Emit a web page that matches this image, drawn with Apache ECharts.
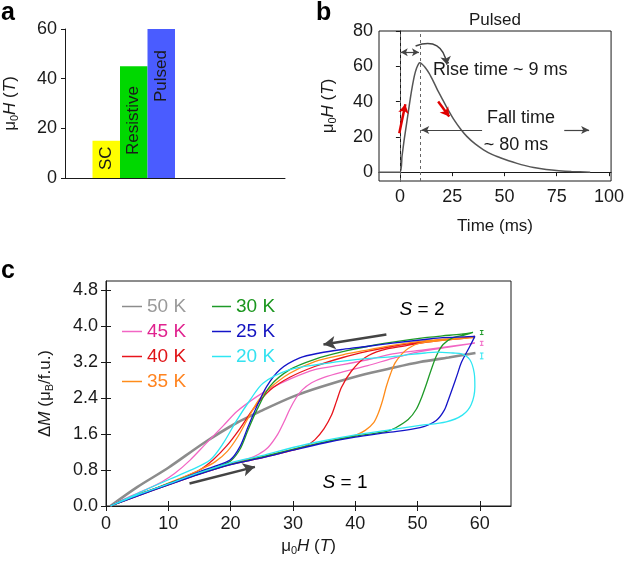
<!DOCTYPE html>
<html><head><meta charset="utf-8">
<script src="https://cdn.jsdelivr.net/npm/echarts@6/dist/echarts.min.js"></script>
<style>html,body{margin:0;padding:0;background:#fff}#c{width:627px;height:565px}</style>
</head><body><div id="c"></div>
<script>
// ---------- Panel a data ----------
const fieldNames = ['SC', 'Resistive', 'Pulsed'];
const fieldValues = [15, 45, 60];
const fieldTicks = [0, 20, 40, 60];

// ---------- Panel b data ----------
const pulseTime  = [-10, 0, 1, 2, 3, 4, 5, 6, 7, 8, 9, 9.5, 10.5, 12, 14, 16, 18, 20.5, 23, 26, 29, 32, 36, 40, 44, 48, 52, 56, 60, 64, 70, 76, 82, 91];
const pulseField = [0, 0, 9, 18, 26, 34, 42, 49, 55, 59, 61.5, 62, 61.3, 59.5, 56, 51.5, 46.5, 41, 35.5, 29.5, 24.5, 20.3, 16, 12.7, 10.1, 8.2, 6.5, 5, 3.7, 2.6, 1.5, 0.8, 0.35, 0];
const timeTicks = [0, 25, 50, 75, 100];
const pulseTicks = [0, 20, 40, 60, 80];

// ---------- Panel c data ----------
const tempNames = ['50 K', '45 K', '40 K', '35 K', '30 K', '25 K', '20 K'];
const loop50K = [[0.7,0],[5,0.42],[10,0.85],[15.7,1.40],[21,1.85],[25,2.12],[30,2.43],[34.3,2.64],[40.75,2.90],[46,3.07],[50.4,3.20],[55,3.30],[59.3,3.40]];
const loop45K = [[0.7,0],[5,0.24],[10,0.49],[15,0.74],[20,0.94],[23,1.06],[24.5,1.15],[26,1.3],[27.5,1.58],[28.5,1.85],[29.5,2.15],[30.5,2.4],[31.5,2.58],[33,2.74],[35,2.86],[38,2.98],[42,3.12],[46,3.28],[50,3.42],[55,3.53],[59.2,3.62],
  [57,3.58],[51,3.47],[46,3.38],[42,3.25],[38,3.14],[33.5,3.03],[29.5,2.82],[26.5,2.62],[24.2,2.43],[21,2.1],[18.8,1.78],[16,1.38],[13.5,1.02],[11,0.72],[9,0.54],[6,0.34],[3,0.16],[0.7,0]];
const loop40K = [[0.7,0],[5,0.22],[10,0.47],[15,0.71],[20,0.92],[25,1.07],[30,1.24],[32,1.33],[33.5,1.47],[35,1.72],[36.2,2.02],[37,2.33],[37.8,2.64],[39.4,3.0],[41.6,3.3],[44.2,3.46],[48,3.56],[51,3.63],[55,3.7],[59.2,3.77],
  [57,3.72],[53,3.68],[51.2,3.66],[46,3.55],[42.1,3.44],[38,3.3],[33.5,3.1],[29.5,2.86],[26.3,2.57],[23.6,2.15],[21.5,1.72],[19.4,1.34],[17.2,1.03],[15,0.8],[12,0.61],[8,0.39],[4,0.19],[0.7,0]];
const loop35K = [[0.7,0],[5,0.23],[10,0.48],[15,0.72],[20,0.93],[25,1.09],[30,1.26],[35,1.42],[38,1.5],[40,1.57],[41.6,1.68],[43,1.86],[43.7,2.06],[44.4,2.35],[45,2.66],[45.7,2.95],[46.4,3.18],[47.5,3.38],[48.5,3.5],[50.1,3.61],[54,3.68],[59.2,3.74],
  [56,3.72],[51.2,3.67],[46,3.57],[42.1,3.47],[38,3.36],[33.5,3.21],[29.5,2.95],[26.3,2.62],[24.5,2.35],[22.8,1.95],[21.2,1.55],[19.5,1.22],[17.5,0.98],[15,0.8],[12,0.62],[8,0.4],[4,0.2],[0.7,0]];
const loop30K = [[0.7,0],[5,0.23],[10,0.48],[15,0.72],[20,0.93],[25,1.09],[30,1.26],[35,1.42],[40,1.55],[45,1.66],[46.5,1.74],[48.5,1.92],[49.8,2.15],[50.7,2.43],[51.4,2.7],[52,2.95],[53,3.33],[54.1,3.59],[55.7,3.74],[57.5,3.8],[58.9,3.86],
  [57,3.82],[54,3.78],[51.2,3.74],[46,3.64],[42.1,3.55],[38,3.43],[33.5,3.26],[29.5,3.03],[26.3,2.66],[24.2,2.13],[22.8,1.69],[21.5,1.26],[20,1.0],[18,0.88],[15,0.75],[12,0.6],[8,0.39],[4,0.19],[0.7,0]];
const loop25K = [[0.7,0],[5,0.22],[10,0.47],[15,0.71],[20,0.92],[25,1.07],[30,1.24],[35,1.4],[40,1.53],[45,1.63],[50.4,1.74],[53,1.9],[54.3,2.13],[55,2.38],[55.7,2.65],[56.4,2.93],[57,3.18],[58.4,3.55],[59.2,3.77],
  [57.5,3.76],[54,3.74],[51.2,3.7],[46,3.62],[42.1,3.55],[38,3.48],[34.3,3.4],[31.1,3.29],[27.9,3.03],[25.8,2.66],[24.2,2.21],[22.8,1.76],[21.5,1.32],[19.9,1.02],[17.2,0.87],[15,0.76],[12,0.59],[8,0.39],[4,0.19],[0.7,0]];
const loop20K = [[0.7,0],[5,0.24],[10,0.49],[15,0.74],[20,0.96],[25,1.12],[30,1.3],[35,1.45],[40,1.58],[45,1.68],[50.4,1.79],[54.6,1.87],[57.2,2.02],[58.6,2.25],[59.2,2.65],[59.1,2.95],[58.4,3.25],[57.1,3.38],[55.7,3.4],
  [53,3.42],[51.2,3.4],[49,3.37],[46,3.32],[42.1,3.28],[38,3.22],[34.3,3.15],[29.5,3.03],[25.2,2.73],[23.1,2.35],[21,1.91],[18.8,1.39],[16.7,1.02],[13.5,0.79],[10.3,0.6],[7,0.4],[4,0.21],[0.7,0]];
const fieldTicksC = [0, 10, 20, 30, 40, 50, 60];
const momentTicks = ['0.0', '0.8', '1.6', '2.4', '3.2', '4.0', '4.8'];
const errorBarField = [60.3, 60.3, 60.3];
const errorBarLow  = [3.81, 3.57, 3.27];
const errorBarHigh = [3.90, 3.66, 3.40];

// ---------- styles ----------
const F = "'Liberation Sans', Arial, Helvetica, sans-serif";
const INK = '#1a1a1a';
const barColors = ['#ffff00', '#00d800', '#4a5cff'];
const lineColors = ['#8c8c8c', '#f266c4', '#e8141c', '#ff8c1a', '#1e9a28', '#1414c8', '#2ee6f2'];
const textColors = ['#9a9a9a', '#e0238f', '#e01418', '#ff8420', '#1a961e', '#1414c0', '#34e2f0'];
const loops = [loop50K, loop45K, loop40K, loop35K, loop30K, loop25K, loop20K];
const errColors = [lineColors[4], lineColors[1], lineColors[6]];

function richStyle(size) {
  return {
    n: {fontSize: size, fontFamily: F, color: INK},
    i: {fontSize: size, fontFamily: F, fontStyle: 'italic', color: INK},
    s: {fontSize: Math.round(size * 0.65), fontFamily: F, color: INK, padding: [8, 0, 0, 0]}
  };
}
const muH = '{n|μ}{s|0}{i|H}{n| (}{i|T}{n|)}';
const dM = '{n|Δ}{i|M}{n| (μ}{s|B}{n|/f.u.)}';
const axLine = {show: true, lineStyle: {color: INK, width: 1}};
const lab = (extra) => Object.assign({fontSize: 18, fontFamily: F, color: INK}, extra);

// Panel a categories (padding slots around the three bars)
const aCats = ['p0'].concat(fieldNames, ['p1', 'p2', 'p3', 'p4']);
const labelPos = [
  {position: 'insideBottom', align: 'left', distance: 8},
  {position: 'insideBottom', align: 'left', distance: 23},
  {position: 'insideTop', align: 'right', distance: 21}
];
const barData = aCats.map(c => {
  const k = fieldNames.indexOf(c);
  if (k < 0) return '-';
  return {
    value: fieldValues[k],
    itemStyle: {color: barColors[k]},
    label: Object.assign({show: true, formatter: '{b}', rotate: 90, verticalAlign: 'middle',
      fontSize: 17, fontFamily: F, color: INK}, labelPos[k])
  };
});

const chart = echarts.init(document.getElementById('c'), null, {renderer: 'canvas'});

const cSeries = loops.map((d, k) => ({
  name: tempNames[k], type: 'line', xAxisIndex: 2, yAxisIndex: 2,
  data: d, symbol: 'none', showSymbol: false, smooth: 0.3,
  lineStyle: {color: lineColors[k], width: k === 0 ? 2.6 : 1.3},
  itemStyle: {color: lineColors[k]}, z: 3 + k
}));
cSeries[0].markLine = {
  silent: true, animation: false, label: {show: false},
  lineStyle: {color: '#444', width: 2.5, type: 'solid'},
  data: [
    [{coord: [13.4, 0.50], symbol: 'none'}, {coord: [23.9, 0.87], symbol: 'arrow', symbolSize: [10, 12]}],
    [{coord: [45.0, 3.81], symbol: 'none'}, {coord: [34.9, 3.59], symbol: 'arrow', symbolSize: [10, 12]}]
  ]
};

const legendBase = {orient: 'vertical', top: 297, itemGap: 6, itemHeight: 1.5, padding: 0, selectedMode: false,
  icon: 'rect', textStyle: {fontSize: 19, fontFamily: F, lineHeight: 17}};

const option = {
  animation: false,
  backgroundColor: '#fff',
  grid: [
    {left: 65, top: 29, width: 220, height: 149},
    {left: 379, top: 31, width: 233, height: 150, show: true, borderColor: INK, borderWidth: 1},
    {left: 106, top: 281, width: 405, height: 225, show: true, borderColor: INK, borderWidth: 1}
  ],
  xAxis: [
    {type: 'category', gridIndex: 0, data: aCats, axisLine: axLine, axisTick: {show: false}, axisLabel: {show: false}},
    {type: 'value', gridIndex: 1, min: -10, max: 101, axisLine: axLine,
      axisTick: {show: true, customValues: timeTicks, length: 4, lineStyle: {color: INK}},
      axisLabel: lab({customValues: timeTicks, margin: 7}), splitLine: {show: false},
      name: 'Time (ms)', nameLocation: 'middle', nameGap: 37, nameTextStyle: {fontSize: 17, fontFamily: F, color: INK}},
    {type: 'value', gridIndex: 2, min: 0, max: 65, axisLine: axLine,
      axisTick: {show: true, inside: true, customValues: fieldTicksC, length: 5, lineStyle: {color: INK}},
      axisLabel: lab({customValues: fieldTicksC, margin: 9}), splitLine: {show: false},
      name: muH, nameLocation: 'middle', nameGap: 31, nameTextStyle: {rich: richStyle(17)}},
    {type: 'value', gridIndex: 2, position: 'top', min: 0, max: 65, axisLine: {show: false},
      axisTick: {show: true, inside: true, customValues: fieldTicksC, length: 5, lineStyle: {color: INK}},
      axisLabel: {show: false}, splitLine: {show: false}}
  ],
  yAxis: [
    {type: 'value', gridIndex: 0, min: 0, max: 60, interval: 20, axisLine: axLine,
      axisTick: {show: true, length: 4, lineStyle: {color: INK}},
      axisLabel: lab({margin: 8, formatter: v => fieldTicks.includes(v) ? String(v) : ''}), splitLine: {show: false},
      name: muH, nameLocation: 'middle', nameRotate: 90, nameGap: 45, nameTextStyle: {rich: richStyle(17)}},
    {type: 'value', gridIndex: 1, min: -5, max: 80, axisLine: axLine,
      axisTick: {show: true, customValues: pulseTicks, length: 4, lineStyle: {color: INK}},
      axisLabel: lab({customValues: pulseTicks, margin: 6}), splitLine: {show: false},
      name: muH, nameLocation: 'middle', nameRotate: 90, nameGap: 41, nameTextStyle: {rich: richStyle(17)}},
    {type: 'value', gridIndex: 2, min: 0, max: 5, axisLine: axLine,
      axisTick: {show: true, inside: true, customValues: momentTicks.map(Number), length: 5, lineStyle: {color: INK}},
      axisLabel: lab({customValues: momentTicks.map(Number), margin: 8, formatter: v => Number(v).toFixed(1)}),
      splitLine: {show: false},
      name: dM, nameLocation: 'middle', nameRotate: 90, nameGap: 51, nameTextStyle: {rich: richStyle(17)}},
    {type: 'value', gridIndex: 2, position: 'right', min: 0, max: 5, axisLine: {show: false},
      axisTick: {show: true, inside: true, customValues: momentTicks.map(Number), length: 5, lineStyle: {color: INK}},
      axisLabel: {show: false}, splitLine: {show: false}}
  ],
  legend: [
    Object.assign({}, legendBase, {left: 122, itemWidth: 20,
      data: tempNames.slice(0, 4).map((n, k) => ({name: n, textStyle: {color: textColors[k]}}))}),
    Object.assign({}, legendBase, {left: 212, itemWidth: 19,
      data: tempNames.slice(4).map((n, k) => ({name: n, textStyle: {color: textColors[k + 4]}}))})
  ],
  series: [
    {type: 'bar', xAxisIndex: 0, yAxisIndex: 0, data: barData, barCategoryGap: '0%', barGap: '0%'},
    {type: 'line', xAxisIndex: 1, yAxisIndex: 1, data: pulseTime.map((t, i) => [t, pulseField[i]]),
      symbol: 'none', smooth: 0.25, lineStyle: {color: '#555', width: 1.5},
      markLine: {
        silent: true, animation: false, label: {show: false}, symbol: ['none', 'none'],
        data: [
          {xAxis: 0, lineStyle: {type: [3, 3], color: '#666', width: 1}},
          {xAxis: 9.5, lineStyle: {type: [3, 3], color: '#666', width: 1}},
          [{coord: [0.4, 68], symbol: 'arrow', symbolSize: [6, 7]},
           {coord: [9.1, 68], symbol: 'arrow', symbolSize: [6, 7], lineStyle: {color: '#444', width: 1.2, type: 'solid'}}],
          [{coord: [-0.3, 22], symbol: 'none'},
           {coord: [2.6, 38.5], symbol: 'arrow', symbolSize: [8, 9], lineStyle: {color: '#e00000', width: 2.5, type: 'solid'}}],
          [{coord: [18.3, 40], symbol: 'none'},
           {coord: [23.6, 31.5], symbol: 'arrow', symbolSize: [8, 9], lineStyle: {color: '#e00000', width: 2.5, type: 'solid'}}],
          [{coord: [39.3, 23.9], symbol: 'none'},
           {coord: [10.2, 23.9], symbol: 'arrow', symbolSize: [6, 8], lineStyle: {color: '#444', width: 1.2, type: 'solid'}}],
          [{coord: [78.6, 23.9], symbol: 'none'},
           {coord: [90.5, 23.9], symbol: 'arrow', symbolSize: [6, 8], lineStyle: {color: '#444', width: 1.2, type: 'solid'}}]
        ]
      }},
    {type: 'lines', coordinateSystem: 'cartesian2d', xAxisIndex: 1, yAxisIndex: 1, silent: true,
      symbol: ['none', 'arrow'], symbolSize: 8,
      lineStyle: {color: '#444', width: 1.5, curveness: 0.6, opacity: 1},
      data: [{coords: [[7.5, 71.5], [22.5, 61]]}]}
  ].concat(cSeries, [{
    type: 'custom', xAxisIndex: 2, yAxisIndex: 2, z: 20,
    encode: {x: 0, y: [1, 2]},
    data: errorBarField.map((x, i) => ({value: [x, errorBarLow[i], errorBarHigh[i]], itemStyle: {color: errColors[i]}})),
    renderItem: function (params, api) {
      const x = api.value(0);
      const lo = api.coord([x, api.value(1)]);
      const hi = api.coord([x, api.value(2)]);
      const c = api.visual('color');
      const w = 1.8;
      const st = {stroke: c, lineWidth: 1};
      return {type: 'group', children: [
        {type: 'line', shape: {x1: lo[0], y1: lo[1], x2: hi[0], y2: hi[1]}, style: st},
        {type: 'line', shape: {x1: lo[0] - w, y1: lo[1], x2: lo[0] + w, y2: lo[1]}, style: st},
        {type: 'line', shape: {x1: hi[0] - w, y1: hi[1], x2: hi[0] + w, y2: hi[1]}, style: st}
      ]};
    }
  }]),
  graphic: [
    {type: 'text', x: 1, y: 13, style: {text: 'a', font: 'bold 25px ' + F, fill: '#000', verticalAlign: 'middle'}},
    {type: 'text', x: 316, y: 13, style: {text: 'b', font: 'bold 25px ' + F, fill: '#000', verticalAlign: 'middle'}},
    {type: 'text', x: 1, y: 271, style: {text: 'c', font: 'bold 25px ' + F, fill: '#000', verticalAlign: 'middle'}},
    {type: 'text', x: 495, y: 20, style: {text: 'Pulsed', font: '17px ' + F, fill: INK, align: 'center', verticalAlign: 'middle'}},
    {type: 'text', x: 433, y: 70, style: {text: 'Rise time ~ 9 ms', font: '18px ' + F, fill: INK, verticalAlign: 'middle'}},
    {type: 'text', x: 521, y: 118, style: {text: 'Fall time', font: '18px ' + F, fill: INK, align: 'center', verticalAlign: 'middle'}},
    {type: 'text', x: 516, y: 145, style: {text: '~ 80 ms', font: '18px ' + F, fill: INK, align: 'center', verticalAlign: 'middle'}},
    {type: 'text', x: 422, y: 310, style: {text: '{i|S}{n| = 2}', rich: richStyle(19), align: 'center', verticalAlign: 'middle'}},
    {type: 'text', x: 345, y: 483, style: {text: '{i|S}{n| = 1}', rich: richStyle(19), align: 'center', verticalAlign: 'middle'}}
  ]
};
chart.setOption(option);
</script>
</body></html>
